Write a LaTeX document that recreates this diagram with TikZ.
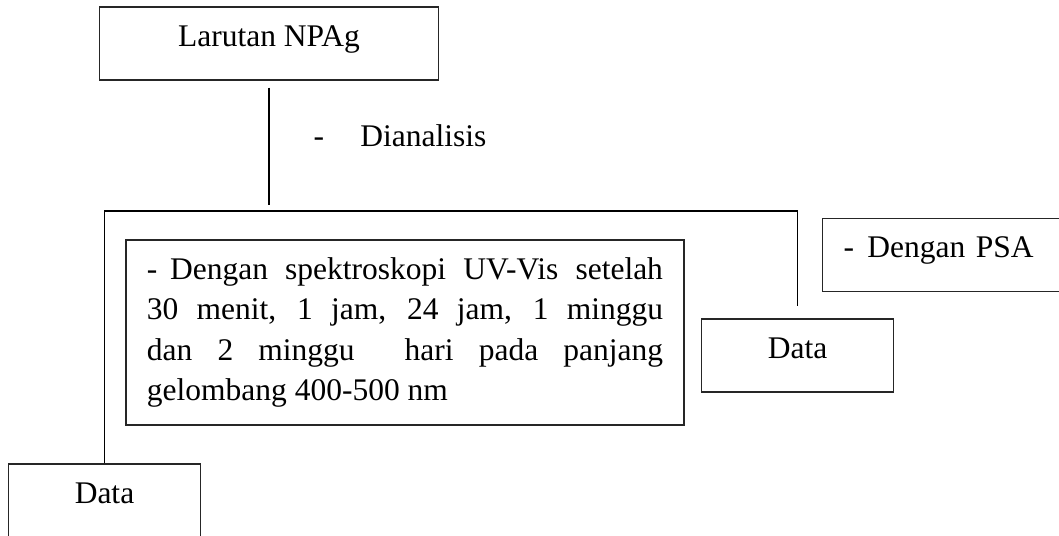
\documentclass[tikz,border=0pt]{standalone}
\usepackage{fontspec}
\setmainfont{Liberation Serif}
\usepackage{tikz}
\usetikzlibrary{positioning, calc}

\begin{document}
\begin{tikzpicture}[
      x=0.381pt, y=-0.381pt,
      box/.style={rectangle, draw=black!85, line width=0.4pt, inner xsep=0pt, inner ysep=0pt, text height=14.9pt, text depth=12.9pt, minimum width=72.8pt, font=\fontsize{12}{14}\selectfont},
      sidebox/.style={rectangle, draw=black!85, line width=0.4pt, inner xsep=8pt, inner ysep=0pt, text height=14.9pt, text depth=12.9pt, text width=83pt, align=left, font=\fontsize{12}{14}\selectfont},
      notebox/.style={rectangle, draw=black!85, line width=0.4pt, inner xsep=8pt, inner ysep=0pt, text width=196.6pt, minimum height=70.5pt, align=justify, font=\fontsize{12}{15.4}\selectfont},
      step_label/.style={inner sep=0pt, font=\fontsize{12}{14}\selectfont},
      connector/.style={line width=0.75pt, draw=black}
  ]
  \useasboundingbox (0,0) rectangle (1059,536);

  \node[box, minimum width=128.8pt] (npag) at (269,43.5) {Larutan NPAg};
  \node[step_label, anchor=base west] (analisis) at (313,147) {\makebox[17.9pt][l]{-}Dianalisis};

  \node[notebox] (uvvis) at (405,332.5) {\hangindent=8.8pt\hangafter=1\makebox[8.8pt][l]{-}Dengan spektroskopi UV-Vis setelah\linebreak 30 menit, 1 jam, 24 jam, 1 minggu\linebreak dan 2 minggu\ \ hari pada panjang\linebreak gelombang 400-500 nm};
  \node[sidebox, anchor=north west] (psa) at (822,218) {\makebox[9.1pt][l]{-}Dengan PSA};

  \node[box] (dataR) at (797.5,355.5) {Data};
  \node[box] (dataL) at (104.5,500.5) {Data};

  \coordinate (hl) at (104.5,211);
  \coordinate (hr) at (797.5,211);

  \draw[connector, shorten <=2.7pt, shorten >=2.3pt] (npag.south) -- (npag.south |- hl);
  \draw[connector, shorten >=4.6pt] (dataL.north) -- (hl) -- (hr) -- (dataR.north);

  \end{tikzpicture}
\end{document}
